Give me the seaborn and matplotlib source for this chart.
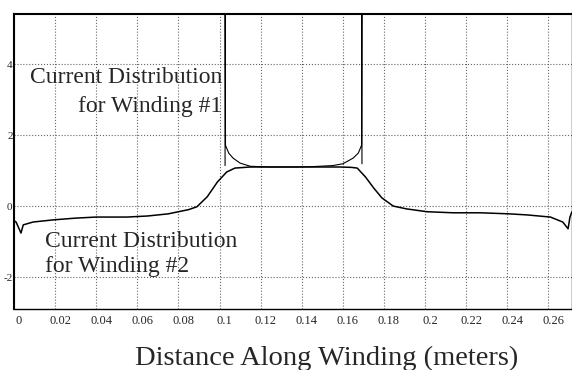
import numpy as np
import pandas as pd
import matplotlib
matplotlib.use("Agg")
import matplotlib.pyplot as plt
import matplotlib.transforms as mtransforms
import seaborn as sns

# Winding #1 current (inner winding, spikes at both ends)
w1_x = [0.1027, 0.1027, 0.1029, 0.1045, 0.1066, 0.110, 0.115, 0.125, 0.135,
        0.145, 0.155, 0.160, 0.165, 0.1675, 0.1691, 0.1693, 0.1693]
w1_y = [1.15, 9.0, 1.72, 1.50, 1.36, 1.22, 1.13, 1.11, 1.11,
        1.12, 1.15, 1.20, 1.36, 1.50, 1.72, 9.0, 1.20]

# Winding #2 current (full length)
w2_x = [0.0, 0.001, 0.0034, 0.0045, 0.0093, 0.019, 0.030, 0.040, 0.055, 0.065,
        0.075, 0.080, 0.085, 0.089, 0.094, 0.099, 0.1035, 0.1075, 0.115, 0.130,
        0.145, 0.1586, 0.164, 0.167, 0.171, 0.175, 0.179, 0.1845, 0.191, 0.201,
        0.2138, 0.227, 0.241, 0.2497, 0.261, 0.267, 0.2696, 0.2705, 0.2715]
w2_y = [-0.40, -0.44, -0.75, -0.52, -0.44, -0.38, -0.33, -0.30, -0.30, -0.27,
        -0.21, -0.15, -0.09, -0.01, 0.27, 0.69, 0.97, 1.08, 1.11, 1.11,
        1.11, 1.11, 1.10, 1.08, 0.83, 0.52, 0.24, 0.01, -0.07, -0.15,
        -0.18, -0.18, -0.21, -0.24, -0.30, -0.44, -0.63, -0.30, -0.15]

x_ticks = [0, 0.02, 0.04, 0.06, 0.08, 0.1, 0.12, 0.14, 0.16, 0.18, 0.2, 0.22, 0.24, 0.26]
x_labels = ["0", "0.02", "0.04", "0.06", "0.08", "0.1", "0.12", "0.14",
            "0.16", "0.18", "0.2", "0.22", "0.24", "0.26"]
y_ticks = [-2, 0, 2, 4]
y_labels = ["-2", "0", "2", "4"]

sns.set_theme(style="white")
plt.rcParams['font.family'] = ['Liberation Serif', 'DejaVu Serif']

fig = plt.figure(figsize=(5.72, 3.70), dpi=100)
ax = fig.add_axes([14 / 572, 61 / 370, 558 / 572, 295 / 370])

df1 = pd.DataFrame({'x': w1_x, 'y': w1_y})
df2 = pd.DataFrame({'x': w2_x, 'y': w2_y})
sns.lineplot(data=df1, x='x', y='y', ax=ax, sort=False, estimator=None,
             color='black', linewidth=0.8)
sns.lineplot(data=df2, x='x', y='y', ax=ax, sort=False, estimator=None,
             color='black', linewidth=1.1)

ax.set_xlim(0, 0.2715)
ax.set_ylim(-2.89, 5.42)
ax.set_xticks(x_ticks)
ax.set_xticklabels(x_labels, fontsize=9)
ax.set_yticks(y_ticks)
ax.set_yticklabels(y_labels, fontsize=8)
ax.tick_params(axis='both', length=0)
ax.tick_params(axis='x', pad=4)
ax.tick_params(axis='y', pad=1)

# shift x tick labels a little to the right like the scan
offset = mtransforms.ScaledTranslation(5 / 100, 0, fig.dpi_scale_trans)
for lbl in ax.get_xticklabels():
    lbl.set_transform(lbl.get_transform() + offset)

ax.grid(True, linestyle=':', color='0.4', linewidth=0.8)
for side in ['top', 'left', 'bottom', 'right']:
    ax.spines[side].set_color('black')
    ax.spines[side].set_linewidth(1.0)
ax.spines['top'].set_linewidth(1.5)
ax.spines['left'].set_linewidth(1.5)

ax.set_xlabel("")
ax.set_ylabel("")

ax.text(0.373, 0.736, "Current Distribution\nfor Winding #1", transform=ax.transAxes,
        ha='right', va='center', multialignment='right', fontsize=17, linespacing=1.47)
ax.text(0.056, 0.186, "Current Distribution\nfor Winding #2", transform=ax.transAxes,
        ha='left', va='center', multialignment='left', fontsize=17, linespacing=1.27)

fig.text(327 / 572, 1 - 358 / 370, "Distance Along Winding (meters)",
         ha='center', va='center', fontsize=20.5)

fig.savefig("out.png", dpi=100)
